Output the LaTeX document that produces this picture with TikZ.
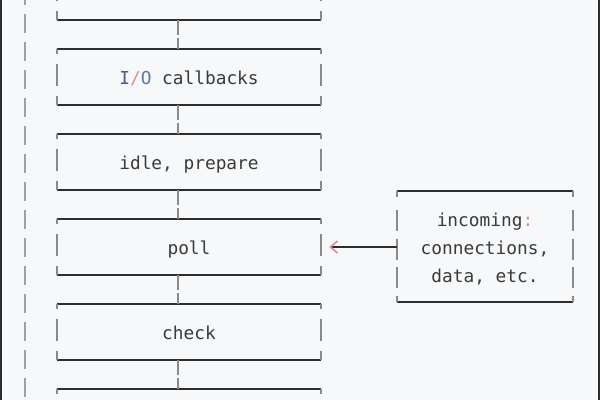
\documentclass[tikz,border=0pt]{standalone}
\usepackage{fontspec}
\newfontfamily\codefont{DejaVu Sans Mono}
\usetikzlibrary{arrows.meta}
\definecolor{bgc}{HTML}{F6F8FA}
\definecolor{edgec}{HTML}{2E2E2E}
\definecolor{sidec}{HTML}{8A8A8A}
\definecolor{txtc}{HTML}{3A3A3A}
\definecolor{pinkc}{HTML}{E08A9A}
\definecolor{slatec}{HTML}{4A5A80}
\definecolor{bluec}{HTML}{5A78B0}
\tikzset{
  stage/.style={minimum width=264pt, minimum height=56pt, inner sep=0pt, text=txtc,
                font=\codefont\fontsize{17.8}{28}\selectfont, text depth=0pt, text height=14pt},
  inbox/.style={minimum width=176pt, minimum height=111pt, inner sep=0pt, text=txtc, align=center,
                font=\codefont\fontsize{17.8}{28}\selectfont},
  hedge/.style={draw=edgec, line width=1.5pt},
  sidemain/.style={draw=sidec, line width=1.7pt, dash pattern=on 5pt off 10pt on 22pt off 10pt on 9pt off 60pt},
  sideinc/.style={draw=sidec, line width=1.7pt, dash pattern=on 6pt off 13pt on 21pt off 8pt on 21pt off 7pt on 21pt off 8pt on 6pt off 60pt},
  link/.style={draw=sidec, line width=1.7pt, dash pattern=on 15pt off 3pt on 40pt off 1pt},
  loopline/.style={draw=sidec!80, line width=2pt, dash pattern=on 19pt off 9pt, dash phase=14.5pt},
  feed/.style={draw=edgec, line width=1.2pt, shorten >=6pt,
     arrows={-Straight Barb[length=7pt,width=12pt,color=pinkc,line width=1.6pt,sep=2pt]}},
  frame/.style={draw=edgec, line width=2.5pt}
}
\newcommand\mainframe[1]{%
  \draw[hedge] (#1.north west) -- (#1.north east);
  \draw[hedge] (#1.south west) -- (#1.south east);
  \draw[sidemain] (#1.north west) -- (#1.south west);
  \draw[sidemain] (#1.north east) -- (#1.south east);}
\newcommand\linkit[2]{\draw[link] ([xshift=-11pt]#1.south) -- ([xshift=-11pt]#2.north);}
\begin{document}
\begin{tikzpicture}[x=1pt,y=-1pt]
\useasboundingbox (0,0) rectangle (600,400);
\fill[bgc] (0,0) rectangle (600,400);
\clip (0,0) rectangle (600,400);
% outer borders
\draw[frame] (1,0) -- (1,400);
\draw[frame] (599,0) -- (599,400);
% loop line on the left
\coordinate (lt) at (25,0);
\coordinate (lb) at (25,400);
\draw[loopline] (lt) -- (lb);
% stages
\node[stage] (b0) at (189,-8) {};
\node[stage] (b1) at (189,77) {\textcolor{slatec}{I}\textcolor{pinkc}{/}\textcolor{bluec}{O} callbacks};
\node[stage] (b2) at (189,162) {idle, prepare};
\node[stage] (b3) at (189,247) {poll};
\node[stage] (b4) at (189,332) {check};
\node[stage] (b5) at (189,417) {};
\foreach \b in {b0,b1,b2,b3,b4,b5}{\mainframe{\b}}
\linkit{b0}{b1}
\linkit{b1}{b2}
\linkit{b2}{b3}
\linkit{b3}{b4}
\linkit{b4}{b5}
% incoming box
\node[inbox] (inc) at (485,246.5) {\rule{0pt}{19pt}incoming\textcolor{pinkc}{:}\\connections,\\data, etc.};
\draw[hedge] (inc.north west) -- (inc.north east);
\draw[hedge] (inc.south west) -- (inc.south east);
\draw[sideinc] (inc.north west) -- (inc.south west);
\draw[sideinc] (inc.north east) -- (inc.south east);
\draw[feed] (inc.west |- b3.east) -- (b3.east);
\end{tikzpicture}
\end{document}
